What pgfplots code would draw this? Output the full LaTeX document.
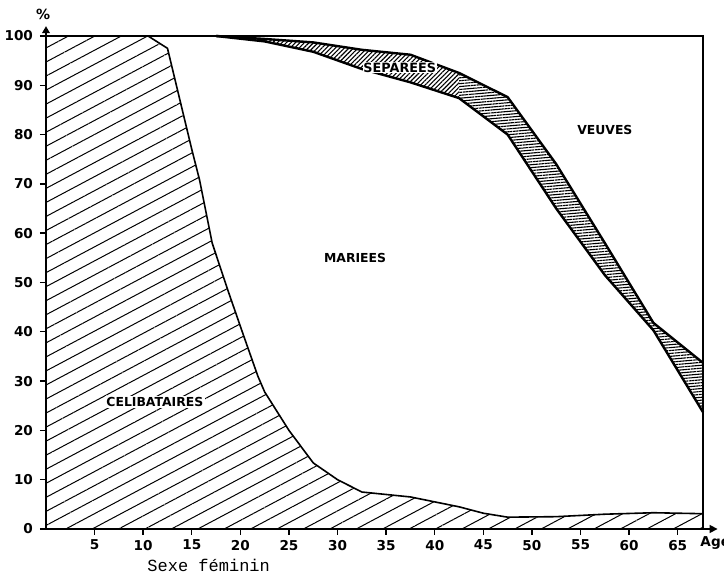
\documentclass[border=0pt]{standalone}
\usepackage{pgfplots}
\pgfplotsset{compat=1.18}
\usepackage{fontspec}
\setmainfont{DejaVu Sans}
\newfontfamily\mono{Liberation Mono}
\usetikzlibrary{patterns.meta,arrows.meta}

\begin{document}
\begin{tikzpicture}
\begin{axis}[
  scale only axis, width=328.5pt, height=246.5pt,
  xmin=0, xmax=67.6, ymin=0, ymax=100,
  axis line style={line width=0.8pt, black},
  xtick={5,10,...,65}, ytick={0,10,...,100},
  tick align=outside, xtick pos=bottom, ytick pos=left,
  major tick length=3pt,
  tick style={line width=0.7pt, black},
  tick label style={font=\fontsize{6.8}{7}\selectfont\bfseries},
  xticklabel style={yshift=1pt},
  /pgf/number format/assume math mode=true,
  clip=false,
  axis on top,
]
% Celibataires
\addplot[draw=black, line width=0.8pt,
  pattern={Lines[angle=28,distance=6.2pt,line width=0.5pt]}]
  coordinates {(0,100)(10.5,100)(12.5,97.5)(15,77)(15.8,70.8)(17.1,58)(18.7,48.5)(20.3,39.4)(21.8,31)(22.5,27.8)(25,20)(27.5,13.4)(30,10)(32.5,7.5)(37.5,6.5)(42.5,4.5)(45,3.2)(47.5,2.4)(52.5,2.5)(57.5,3)(62.5,3.3)(67.6,3.1)} \closedcycle;
% Separees band, left part
\addplot[draw=none, pattern={Lines[angle=45,distance=1.6pt,line width=0.55pt]}]
  coordinates {(17.5,100)(22.5,99.4)(27.5,98.7)(32.5,97.2)(37.5,96.2)(42.5,92.5)
               (42.5,87.4)(37.5,90.6)(32.5,93.3)(27.5,96.8)(22.5,98.9)(17.5,100)};
% Separees band, right part
\addplot[draw=none, pattern={Lines[angle=5,distance=1.45pt,line width=0.55pt]}]
  coordinates {(42.5,92.5)(47.5,87.6)(52.5,74)(57.5,58)(62.5,41.8)(67.6,33.7)
               (67.6,23.7)(62.5,40.3)(57.5,51.5)(52.5,65)(47.5,80)(42.5,87.4)};
% upper edge
\addplot[black, line width=1.2pt]
  coordinates {(17.5,100)(22.5,99.4)(27.5,98.7)(32.5,97.2)(37.5,96.2)(42.5,92.5)(47.5,87.6)(52.5,74)(57.5,58)(62.5,41.8)(67.6,33.7)};
% lower edge
\addplot[black, line width=1.2pt]
  coordinates {(17.5,100)(22.5,98.9)(27.5,96.8)(32.5,93.3)(37.5,90.6)(42.5,87.4)(47.5,80)(52.5,65)(57.5,51.5)(62.5,40.3)(67.6,23.7)};

\node[font=\fontsize{6.2}{7}\selectfont\bfseries, fill=white, inner sep=0.8pt] at (axis cs:11.2,25.8) {CELIBATAIRES};
\node[font=\fontsize{6.2}{7}\selectfont\bfseries] at (axis cs:31.8,55) {MARIEES};
\node[font=\fontsize{6.4}{7}\selectfont\bfseries, fill=white, inner sep=0.3pt] at (axis cs:36.4,93.6) {SEPAREES};
\node[font=\fontsize{6.2}{7}\selectfont\bfseries] at (axis cs:57.5,81) {VEUVES};

\draw[line width=0.8pt, -{Triangle[length=3.5pt,width=3.8pt]}] (axis cs:0,100) -- (axis cs:0,102);
\draw[line width=0.8pt, -{Triangle[length=4pt,width=4pt]}] (axis cs:67.6,0) -- (axis cs:69.1,0);
\node[font=\fontsize{7}{8}\selectfont\bfseries] at (axis cs:-0.3,104.3) {\%};
\node[font=\fontsize{6.8}{7}\selectfont\bfseries, anchor=west, inner sep=0pt] at ([yshift=-7pt]axis cs:67.3,0) {Age};
\node[font=\fontsize{8.5}{9}\selectfont\mono, anchor=base west, inner sep=0pt] at ([yshift=-21.5pt]axis cs:10.4,0) {Sexe féminin};

\coordinate (BL) at (rel axis cs:0,0);
\coordinate (TR) at (rel axis cs:1,1);
\end{axis}
\pgfresetboundingbox
\path[use as bounding box] ([xshift=-23pt,yshift=-24.5pt]BL) rectangle ([xshift=10.5pt,yshift=18pt]TR);
\end{tikzpicture}
\end{document}
